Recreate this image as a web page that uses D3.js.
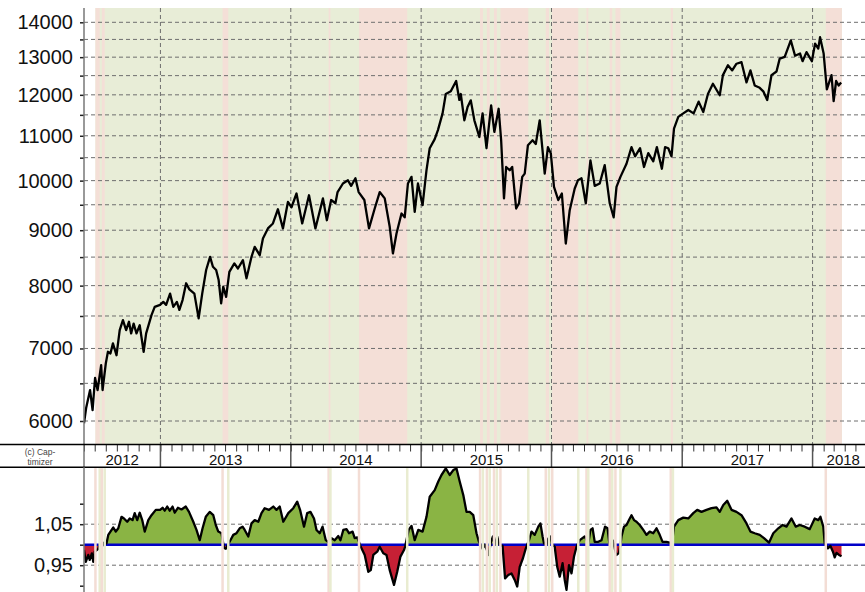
<!DOCTYPE html>
<html>
<head>
<meta charset="utf-8">
<script src="https://cdn.jsdelivr.net/npm/d3@7"></script>
<style>
  body { margin: 0; background: #fff; }
  svg { display: block; font-family: "Liberation Sans", Arial, sans-serif; }
</style>
</head>
<body>
<svg id="chart" width="865" height="592"></svg>
<script>
// ---- data ----
const priceDates = [
  "2012-06-01","2012-06-07","2012-06-18","2012-06-25","2012-07-02","2012-07-09","2012-07-19","2012-07-23",
  "2012-08-01","2012-08-07","2012-08-14","2012-08-21","2012-08-31","2012-09-09","2012-09-18","2012-09-27",
  "2012-10-05","2012-10-11","2012-10-18","2012-10-26","2012-11-04","2012-11-15","2012-11-22","2012-12-07",
  "2012-12-16","2012-12-31","2013-01-09","2013-01-17","2013-01-28","2013-02-06","2013-02-16","2013-02-23",
  "2013-03-04","2013-03-14","2013-03-23","2013-04-06","2013-04-18","2013-04-28","2013-05-09","2013-05-20",
  "2013-05-28","2013-06-06","2013-06-13","2013-06-20","2013-06-26","2013-07-04","2013-07-13","2013-07-27",
  "2013-08-06","2013-08-20","2013-08-30","2013-09-13","2013-09-22","2013-10-06","2013-10-15","2013-10-29",
  "2013-11-12","2013-11-26","2013-12-10","2013-12-24","2014-01-03","2014-01-17","2014-02-02","2014-02-21",
  "2014-03-11","2014-04-01","2014-04-12","2014-04-24","2014-05-06","2014-05-12","2014-05-27","2014-06-10",
  "2014-06-19","2014-07-01","2014-07-10","2014-07-26","2014-08-08","2014-08-24","2014-09-07","2014-09-21",
  "2014-10-05","2014-10-14","2014-10-24","2014-11-07","2014-11-16","2014-11-25","2014-12-05","2014-12-14",
  "2014-12-23","2015-01-05","2015-01-16","2015-01-25","2015-02-08","2015-02-17","2015-03-02","2015-03-11",
  "2015-03-25","2015-04-09","2015-04-18","2015-04-22","2015-05-02","2015-05-11","2015-05-20","2015-05-30",
  "2015-06-13","2015-06-22","2015-07-03","2015-07-16","2015-07-25","2015-08-06","2015-08-13","2015-08-21",
  "2015-08-27","2015-09-06","2015-09-13","2015-09-24","2015-10-02","2015-10-11","2015-10-18","2015-10-27",
  "2015-11-09","2015-11-18","2015-11-29","2015-12-13","2015-12-22","2015-12-30","2016-01-08","2016-01-20",
  "2016-01-30","2016-02-10","2016-02-21","2016-03-06","2016-03-15","2016-03-25","2016-04-06","2016-04-19",
  "2016-05-01","2016-05-15","2016-05-29","2016-06-12","2016-06-23","2016-07-01","2016-07-12","2016-07-29",
  "2016-08-12","2016-08-22","2016-09-05","2016-09-16","2016-09-28","2016-10-12","2016-10-22","2016-11-05",
  "2016-11-14","2016-11-23","2016-12-02","2016-12-09","2016-12-21","2017-01-04","2017-01-18","2017-02-02",
  "2017-02-16","2017-03-01","2017-03-14","2017-03-28","2017-04-16","2017-04-25","2017-05-09","2017-05-21",
  "2017-06-02","2017-06-16","2017-06-30","2017-07-11","2017-07-23","2017-08-06","2017-08-16","2017-08-27",
  "2017-09-08","2017-09-22","2017-10-01","2017-10-15","2017-11-01","2017-11-13","2017-11-27","2017-12-04",
  "2017-12-15","2017-12-30","2018-01-08","2018-01-17","2018-01-22","2018-02-01","2018-02-10","2018-02-23",
  "2018-03-01","2018-03-08","2018-03-15","2018-03-22"
];
const priceValues = [
  5970,6168,6408,6140,6574,6408,6757,6408,
  6780,6951,6926,7076,6900,7279,7435,7279,
  7409,7227,7380,7227,7354,6951,7227,7514,
  7648,7680,7729,7680,7865,7648,7729,7598,
  7758,8040,7937,7865,7463,7865,8270,8505,
  8328,8270,8095,7703,7981,7811,8237,8386,
  8297,8445,8125,8505,8687,8535,8843,9034,
  9130,9410,9034,9557,9450,9730,9130,9694,
  9034,9630,9193,9596,9530,9760,9939,10007,
  9890,10050,9760,9596,9034,9425,9760,9630,
  9066,8566,8937,9325,9250,9939,10080,9358,
  9939,9492,10224,10713,10923,11134,11536,12021,
  12090,12358,11870,12021,11368,11693,11860,11368,
  10972,11536,10713,11735,11090,11650,10896,9630,
  10294,10224,10294,9425,9530,10080,10150,10782,
  10896,10810,11368,10150,10738,10600,9868,9596,
  9730,8749,9391,9834,10007,10050,9530,10439,
  9890,9939,10335,9530,9250,9868,10080,10365,
  10738,10530,10713,10294,10600,10420,10738,10256,
  10738,10713,10530,11170,11452,11536,11620,11536,
  11828,11570,12021,12287,11990,12513,12777,12640,
  12820,12862,12320,12640,12240,12180,12090,11870,
  12513,12610,12960,13010,13472,13040,13100,12890,
  13140,12890,13380,13240,13564,13100,12140,12513,
  11840,12358,12240,12320
];

const oscDates = [
  "2012-06-01","2012-06-06","2012-06-13","2012-06-17","2012-06-23","2012-06-27","2012-07-01","2012-07-11",
  "2012-07-15","2012-07-21","2012-07-27","2012-08-03","2012-08-08","2012-08-14","2012-08-22","2012-08-29",
  "2012-09-05","2012-09-14","2012-09-21","2012-09-30","2012-10-07","2012-10-15","2012-10-21","2012-10-28",
  "2012-11-04","2012-11-11","2012-11-18","2012-11-28","2012-12-07","2012-12-19","2012-12-31","2013-01-07",
  "2013-01-13","2013-01-20","2013-01-27","2013-02-04","2013-02-10","2013-02-19","2013-03-01","2013-03-13",
  "2013-03-22","2013-04-03","2013-04-12","2013-04-21","2013-04-29","2013-05-08","2013-05-19","2013-05-29",
  "2013-06-05","2013-06-12","2013-06-21","2013-06-28","2013-07-03","2013-07-09","2013-07-16","2013-07-24",
  "2013-08-02","2013-08-11","2013-08-19","2013-08-25","2013-09-04","2013-09-13","2013-09-22","2013-10-02",
  "2013-10-11","2013-10-20","2013-11-01","2013-11-13","2013-11-22","2013-12-01","2013-12-11","2013-12-25",
  "2014-01-08","2014-01-19","2014-01-27","2014-02-07","2014-02-16","2014-02-25","2014-03-07","2014-03-14",
  "2014-03-23","2014-03-31","2014-04-09","2014-04-18","2014-04-25","2014-05-04","2014-05-14","2014-05-20",
  "2014-05-28","2014-06-06","2014-06-13","2014-06-23","2014-06-29","2014-07-06","2014-07-15","2014-07-27",
  "2014-08-06","2014-08-13","2014-08-20","2014-08-31","2014-09-07","2014-09-17","2014-09-26","2014-10-05",
  "2014-10-17","2014-10-26","2014-11-04","2014-11-14","2014-11-17","2014-11-27","2014-12-05","2014-12-14",
  "2014-12-24","2015-01-05","2015-01-16","2015-01-25","2015-02-08","2015-02-18","2015-02-27","2015-03-11",
  "2015-03-22","2015-04-01","2015-04-10","2015-04-19","2015-04-29","2015-05-08","2015-05-17","2015-05-27",
  "2015-06-05","2015-06-12","2015-06-22","2015-06-28","2015-07-05","2015-07-09","2015-07-15","2015-07-21",
  "2015-07-26","2015-08-02","2015-08-08","2015-08-17","2015-08-24","2015-09-02","2015-09-11","2015-09-20",
  "2015-09-27","2015-10-04","2015-10-13","2015-10-21","2015-10-30","2015-11-06","2015-11-15","2015-11-25",
  "2015-12-01","2015-12-07","2015-12-11","2015-12-18","2015-12-23","2015-12-29","2016-01-03","2016-01-10",
  "2016-01-17","2016-01-24","2016-02-01","2016-02-07","2016-02-12","2016-02-19","2016-02-26","2016-03-04",
  "2016-03-11","2016-03-20","2016-04-03","2016-04-13","2016-04-19","2016-04-25","2016-05-01","2016-05-11",
  "2016-05-20","2016-05-30","2016-06-06","2016-06-11","2016-06-15","2016-06-21","2016-06-26","2016-07-01",
  "2016-07-08","2016-07-12","2016-07-15","2016-07-22","2016-07-29","2016-08-05","2016-08-12","2016-08-19",
  "2016-08-26","2016-09-04","2016-09-14","2016-09-23","2016-10-02","2016-10-12","2016-10-21","2016-10-30",
  "2016-11-07","2016-11-18","2016-11-27","2016-12-03","2016-12-09","2016-12-21","2017-01-04","2017-01-18",
  "2017-02-01","2017-02-12","2017-02-24","2017-03-10","2017-03-24","2017-04-07","2017-04-16","2017-04-26",
  "2017-05-07","2017-05-19","2017-06-02","2017-06-16","2017-06-30","2017-07-11","2017-07-23","2017-08-06",
  "2017-08-18","2017-09-01","2017-09-13","2017-09-27","2017-10-09","2017-10-20","2017-11-03","2017-11-15",
  "2017-11-26","2017-12-10","2017-12-24","2018-01-07","2018-01-17","2018-01-23","2018-01-31","2018-02-04",
  "2018-02-13","2018-02-20","2018-02-27","2018-03-04","2018-03-09","2018-03-16","2018-03-23"
];
const oscValues = [
  0.987,0.958,0.975,0.963,0.979,0.958,0.983,0.990,
  1.000,0.995,1.005,1.003,1.024,1.032,1.042,1.032,
  1.040,1.068,1.064,1.056,1.064,1.060,1.077,1.060,
  1.078,1.060,1.032,1.060,1.072,1.085,1.085,1.090,
  1.083,1.093,1.083,1.093,1.078,1.090,1.086,1.093,
  1.080,1.056,1.036,1.011,1.040,1.068,1.080,1.072,
  1.048,1.032,1.028,0.992,0.990,1.000,1.011,1.024,
  1.028,1.040,1.044,1.036,1.020,1.052,1.060,1.056,
  1.077,1.089,1.085,1.093,1.085,1.093,1.056,1.077,
  1.089,1.105,1.085,1.044,1.077,1.080,1.064,1.036,
  1.028,1.044,1.011,1.005,1.016,1.011,1.021,1.011,
  1.036,1.038,1.028,1.032,1.016,1.018,0.997,0.975,
  0.934,0.938,0.975,0.983,0.995,0.979,0.975,0.938,
  0.902,0.934,0.971,0.987,0.995,1.036,1.046,1.011,
  1.036,1.032,1.068,1.117,1.133,1.154,1.170,1.186,
  1.170,1.182,1.186,1.154,1.121,1.080,1.080,1.072,
  1.028,1.007,0.990,1.000,0.985,0.975,1.005,1.020,
  1.000,1.020,1.000,0.997,0.918,0.926,0.930,0.914,
  0.898,0.946,0.967,0.991,1.011,1.032,1.024,1.044,
  1.052,1.020,1.003,1.000,1.015,1.020,1.000,0.995,
  0.946,0.922,0.955,0.914,0.890,0.950,0.930,0.971,
  0.995,1.011,1.020,1.003,1.036,1.040,1.007,1.007,
  1.011,1.044,1.040,1.003,0.995,1.010,0.990,0.975,
  0.980,1.000,1.020,1.044,1.048,1.060,1.072,1.060,
  1.056,1.048,1.036,1.024,1.032,1.028,1.040,1.024,
  1.007,1.007,1.005,1.000,1.044,1.060,1.066,1.064,
  1.077,1.085,1.080,1.085,1.089,1.091,1.080,1.097,
  1.107,1.085,1.080,1.072,1.052,1.032,1.028,1.024,
  1.016,1.005,1.028,1.040,1.048,1.044,1.064,1.044,
  1.048,1.044,1.038,1.064,1.060,1.068,1.044,1.003,
  0.991,0.997,0.983,0.969,0.980,0.975,0.972
];

// periods with a sell signal (pink), everything else between start and end is green
const signalStart = "2012-07-03";
const signalEnd = "2018-03-24";
const redPhases = [
  ["2012-07-03","2012-07-15"], ["2012-07-21","2012-07-29"], ["2013-06-24","2013-07-10"],
  ["2014-04-17","2014-04-22"], ["2014-07-11","2014-11-23"], ["2015-06-15","2015-06-23"],
  ["2015-07-04","2015-07-12"], ["2015-07-24","2015-08-01"], ["2015-08-11","2015-10-28"],
  ["2015-12-16","2015-12-25"], ["2016-01-03","2016-03-16"], ["2016-04-08","2016-04-13"],
  ["2016-06-12","2016-06-19"], ["2016-06-28","2016-07-12"], ["2016-11-30","2016-12-06"],
  ["2018-02-07","2018-03-24"]
];

const priceLabels = [6000, 7000, 8000, 9000, 10000, 11000, 12000, 13000, 14000];
const priceGrid = [6000, 6500, 7000, 7500, 8000, 8500, 9000, 9500, 10000, 10500, 11000,
                   11500, 12000, 12500, 13000, 13500, 14000];
const oscTicks = [0.90, 0.95, 1.00, 1.05, 1.10];
const oscLabels = [0.95, 1.05];
const oscGrid = [0.95, 1.05];
const years = [2012, 2013, 2014, 2015, 2016, 2017, 2018];

// ---- layout ----
const W = 865;
const left = 84;
const mainTop = 8, bandTop = 444.5, bandBottom = 467.3, H = 592;
const font = "'Liberation Sans', Arial, sans-serif";

const parse = d3.utcParse("%Y-%m-%d");
const price = priceDates.map((d, i) => ({ date: parse(d), value: priceValues[i] }));
const osc = oscDates.map((d, i) => ({ date: parse(d), value: oscValues[i] }));

const x = d3.scaleUtc()
  .domain([parse("2012-06-01"), parse("2018-06-22")])
  .range([left, 874]);
const y = d3.scaleLog().domain([6000, 14000]).range([421, 22.3]);
const yo = d3.scaleLinear().domain([0.95, 1.05]).range([565.2, 524.2]);

const svg = d3.select("#chart");
const defs = svg.append("defs");
defs.append("clipPath").attr("id", "clip-main")
  .append("rect").attr("x", left).attr("y", mainTop).attr("width", W - left).attr("height", bandTop - mainTop);
defs.append("clipPath").attr("id", "clip-low")
  .append("rect").attr("x", left).attr("y", bandBottom).attr("width", W - left).attr("height", H - bandBottom);
defs.append("clipPath").attr("id", "clip-up")
  .append("rect").attr("x", left).attr("y", bandBottom).attr("width", W - left).attr("height", yo(1) - bandBottom);
defs.append("clipPath").attr("id", "clip-down")
  .append("rect").attr("x", left).attr("y", yo(1)).attr("width", W - left).attr("height", H - yo(1));

const gridColor = "#6e6e6e";

// ---- main panel ----
const main = svg.append("g").attr("clip-path", "url(#clip-main)");

main.append("rect")
  .attr("x", x(parse(signalStart))).attr("y", mainTop)
  .attr("width", x(parse(signalEnd)) - x(parse(signalStart)))
  .attr("height", bandTop - mainTop)
  .attr("fill", "#e8edd7");

main.append("g").selectAll("rect")
  .data(redPhases)
  .join("rect")
  .attr("x", d => x(parse(d[0])))
  .attr("y", mainTop)
  .attr("width", d => x(parse(d[1])) - x(parse(d[0])))
  .attr("height", bandTop - mainTop)
  .attr("fill", "#f4dfd7");

main.append("g").selectAll("line")
  .data(priceGrid)
  .join("line")
  .attr("x1", left).attr("x2", W)
  .attr("y1", d => y(d)).attr("y2", d => y(d))
  .attr("stroke", gridColor).attr("stroke-width", 1).attr("stroke-dasharray", "4,3");

const yearStarts = d3.utcYear.range(parse("2013-01-01"), parse("2018-01-02"));
main.append("g").selectAll("line")
  .data(yearStarts)
  .join("line")
  .attr("x1", d => x(d)).attr("x2", d => x(d))
  .attr("y1", mainTop).attr("y2", bandTop)
  .attr("stroke", gridColor).attr("stroke-width", 1).attr("stroke-dasharray", "4,3");

const line = d3.line().x(d => x(d.date)).y(d => y(d.value));
main.append("path")
  .datum(price)
  .attr("d", line)
  .attr("fill", "none")
  .attr("stroke", "#000")
  .attr("stroke-width", 2.3)
  .attr("stroke-linejoin", "round");

// y axis of the main panel
const yAxis = d3.axisLeft(y)
  .tickValues(priceGrid)
  .tickSize(4)
  .tickPadding(7)
  .tickFormat(d => priceLabels.includes(d) ? d : "");
const gy = svg.append("g").attr("transform", `translate(${left},0)`).call(yAxis)
  .attr("font-family", font).attr("font-size", 20);
gy.select(".domain").remove();
gy.selectAll(".tick line").attr("stroke", "#222").attr("stroke-width", 1.5);
gy.selectAll(".tick text").attr("fill", "#111");
svg.append("line")
  .attr("x1", left).attr("x2", left).attr("y1", mainTop).attr("y2", bandTop)
  .attr("stroke", "#777").attr("stroke-width", 1.5);

// ---- year band ----
const monthAxis = d3.axisBottom(x)
  .ticks(d3.utcMonth.every(1))
  .tickSize(7)
  .tickFormat("");
const gm = svg.append("g").attr("transform", `translate(0,${bandTop})`).call(monthAxis);
gm.select(".domain").remove();
gm.selectAll(".tick line").attr("stroke", "#333").attr("stroke-width", 1);

svg.append("g").selectAll("line")
  .data(yearStarts)
  .join("line")
  .attr("x1", d => x(d)).attr("x2", d => x(d))
  .attr("y1", bandTop).attr("y2", bandBottom)
  .attr("stroke", "#555").attr("stroke-width", 1.5);

svg.append("line")
  .attr("x1", left).attr("x2", left).attr("y1", bandTop).attr("y2", bandBottom)
  .attr("stroke", "#777").attr("stroke-width", 1.5);

const [d0, d1] = x.domain();
svg.append("g").selectAll("text")
  .data(years)
  .join("text")
  .attr("x", yr => {
    const a = new Date(Math.max(Date.UTC(yr, 0, 1), d0));
    const b = new Date(Math.min(Date.UTC(yr + 1, 0, 1), d1));
    return (x(a) + x(b)) / 2;
  })
  .attr("y", 465)
  .attr("text-anchor", "middle")
  .attr("font-size", 15)
  .attr("fill", "#111")
  .text(yr => yr);

svg.append("text")
  .attr("x", 40).attr("y", 454.5)
  .attr("text-anchor", "middle").attr("font-size", 8.5).attr("fill", "#444")
  .text("(c) Cap-");
svg.append("text")
  .attr("x", 40).attr("y", 464.5)
  .attr("text-anchor", "middle").attr("font-size", 8.5).attr("fill", "#444")
  .text("timizer");

[bandTop, bandBottom].forEach(yy => {
  svg.append("line")
    .attr("x1", 0).attr("x2", W).attr("y1", yy).attr("y2", yy)
    .attr("stroke", "#000").attr("stroke-width", 1.5);
});

// ---- lower panel ----
const low = svg.append("g").attr("clip-path", "url(#clip-low)");

low.append("g").selectAll("line")
  .data(oscGrid)
  .join("line")
  .attr("x1", left).attr("x2", W)
  .attr("y1", d => yo(d)).attr("y2", d => yo(d))
  .attr("stroke", gridColor).attr("stroke-width", 1).attr("stroke-dasharray", "4,3");

const area = d3.area()
  .x(d => x(d.date))
  .y0(yo(1))
  .y1(d => yo(d.value));

low.append("path")
  .datum(osc)
  .attr("d", area)
  .attr("fill", "#8ab444")
  .attr("clip-path", "url(#clip-up)");
low.append("path")
  .datum(osc)
  .attr("d", area)
  .attr("fill", "#c62035")
  .attr("clip-path", "url(#clip-down)");

low.append("line")
  .attr("x1", left).attr("x2", W)
  .attr("y1", yo(1)).attr("y2", yo(1))
  .attr("stroke", "#0000c8").attr("stroke-width", 2.5);

const oscLine = d3.line().x(d => x(d.date)).y(d => yo(d.value));
low.append("path")
  .datum(osc)
  .attr("d", oscLine)
  .attr("fill", "none")
  .attr("stroke", "#000")
  .attr("stroke-width", 2.3)
  .attr("stroke-linejoin", "round");

// signal change markers
const stripes = [];
redPhases.forEach(p => {
  stripes.push({ date: parse(p[0]), color: "#f3ddd5" });
  if (p[1] !== signalEnd) stripes.push({ date: parse(p[1]), color: "#e9ecd1" });
});
low.append("g").selectAll("rect")
  .data(stripes)
  .join("rect")
  .attr("x", d => x(d.date) - 1.25)
  .attr("y", bandBottom + 0.8)
  .attr("width", 2.5)
  .attr("height", H - bandBottom)
  .attr("fill", d => d.color);

const fmt = d3.formatLocale({ decimal: ",", thousands: ".", grouping: [3], currency: ["", "€"] }).format(".2f");
const oAxis = d3.axisLeft(yo)
  .tickValues(oscTicks)
  .tickSize(4)
  .tickPadding(7)
  .tickFormat(d => oscLabels.some(v => Math.abs(v - d) < 1e-9) ? fmt(d) : "");
const go = svg.append("g").attr("transform", `translate(${left},0)`).call(oAxis)
  .attr("font-family", font).attr("font-size", 20);
go.select(".domain").remove();
go.selectAll(".tick line").attr("stroke", "#222").attr("stroke-width", 1.5);
go.selectAll(".tick text").attr("fill", "#111");
svg.append("line")
  .attr("x1", left).attr("x2", left).attr("y1", bandBottom).attr("y2", H)
  .attr("stroke", "#777").attr("stroke-width", 1.5);
</script>
</body>
</html>
